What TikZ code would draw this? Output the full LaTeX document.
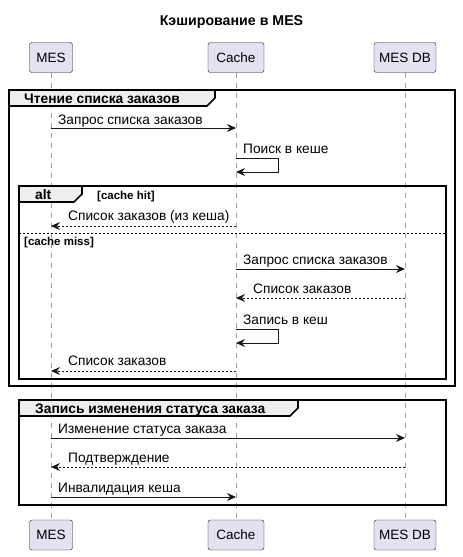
\documentclass[tikz,border=0pt]{standalone}
\usepackage{fontspec}
\setmainfont{Liberation Sans}
\usetikzlibrary{arrows.meta}
\definecolor{partfill}{HTML}{E2E2F0}
\definecolor{lineblk}{HTML}{181818}
\definecolor{lifegray}{HTML}{A0A0A0}
\definecolor{tabfill}{HTML}{EEEEEE}
\tikzset{
  part/.style={draw=lineblk, fill=partfill, rounded corners=2.5pt, minimum height=30pt, inner xsep=2pt, font=\fontsize{13.5}{15}\selectfont},
  life/.style={draw=lifegray, line width=1pt, dash pattern=on 5pt off 5pt},
  msg/.style={draw=lineblk, line width=0.9pt, -{Stealth[length=9pt,width=8pt,inset=3pt]}},
  ret/.style={msg, dash pattern=on 2pt off 2pt},
  lbl/.style={anchor=base west, inner sep=0pt, font=\fontsize{13.7}{15}\selectfont},
  frame/.style={draw=black, line width=1.6pt},
  tabtxt/.style={anchor=base west, inner sep=0pt, font=\bfseries\fontsize{13.8}{15}\selectfont},
  guard/.style={anchor=base west, inner sep=0pt, font=\bfseries\fontsize{11.5}{13}\selectfont},
}
\begin{document}
\begin{tikzpicture}[x=1pt,y=-1pt]
\useasboundingbox (0,0) rectangle (463,557);
% title
\node[font=\bfseries\fontsize{14.2}{16}\selectfont] (title) at (231.5,22) {Кэширование в MES};
% participants
\node[part, minimum width=43pt] (mesT) at (51,57.5) {MES};
\node[part, minimum width=56pt] (cacheT) at (236,57.5) {Cache};
\node[part, minimum width=62pt] (dbT) at (405,57.5) {MES DB};
\node[part, minimum width=43pt] (mesB) at (51,535) {MES};
\node[part, minimum width=56pt] (cacheB) at (236,535) {Cache};
\node[part, minimum width=62pt] (dbB) at (405,535) {MES DB};
\draw[life] (mesT.south) -- (mesB.north);
\draw[life] (cacheT.south) -- (cacheB.north);
\draw[life] (dbT.south) -- (dbB.north);
% group 1 frame
\draw[frame] (9,90) rectangle (455,386);
\draw[frame, fill=tabfill] (9,90) -- (215,90) -- (215,98) -- (207,106) -- (9,106) -- cycle;
\node[tabtxt] (g1) at (24,103) {Чтение списка заказов};
% msg 1
\coordinate (a1) at (51,128); \coordinate (b1) at (236,128);
\draw[msg] (a1) -- (b1);
\node[lbl] (l1) at (58,124) {Запрос списка заказов};
% self 1
\coordinate (s1a) at (236,158); \coordinate (s1b) at (278,158);
\coordinate (s1c) at (278,172); \coordinate (s1d) at (236,172);
\node[lbl] (l2) at (243,153) {Поиск в кеше};
\draw[msg] (s1a) -- (s1b) -- (s1c) -- (s1d);
% alt frame
\draw[frame] (19,186) rectangle (446,379);
\draw[frame, fill=tabfill] (19,186) -- (82,186) -- (82,194) -- (74,202) -- (19,202) -- cycle;
\node[tabtxt] (altl) at (35,199) {alt};
\node[guard] (g2) at (97,199) {[cache hit]};
% msg cache hit
\coordinate (a2) at (236,226); \coordinate (b2) at (51,226);
\draw[ret] (a2) -- (b2);
\node[lbl] (l3) at (68,220) {Список заказов (из кеша)};
% separator
\coordinate (sepL) at (19,233); \coordinate (sepR) at (446,233);
\draw[draw=black, line width=1pt, dash pattern=on 2pt off 2pt] (sepL) -- (sepR);
\node[guard] (g3) at (24,245) {[cache miss]};
% msg 3
\coordinate (a3) at (236,269); \coordinate (b3) at (405,269);
\draw[msg] (a3) -- (b3);
\node[lbl] (l4) at (243,264) {Запрос списка заказов};
% msg 4
\coordinate (a4) at (405,298); \coordinate (b4) at (236,298);
\draw[ret] (a4) -- (b4);
\node[lbl] (l5) at (253,293) {Список заказов};
% self 2
\coordinate (s2a) at (236,329); \coordinate (s2b) at (278,329);
\coordinate (s2c) at (278,343); \coordinate (s2d) at (236,343);
\node[lbl] (l6) at (243,324) {Запись в кеш};
\draw[msg] (s2a) -- (s2b) -- (s2c) -- (s2d);
% msg 5
\coordinate (a5) at (236,371); \coordinate (b5) at (51,371);
\draw[ret] (a5) -- (b5);
\node[lbl] (l7) at (68,365) {Список заказов};
% group 2 frame
\draw[frame] (19,400) rectangle (446,505);
\draw[frame, fill=tabfill] (19,400) -- (298,400) -- (298,408) -- (290,416) -- (19,416) -- cycle;
\node[tabtxt] (g4) at (35,413) {Запись изменения статуса заказа};
% msg 6
\coordinate (a6) at (51,438); \coordinate (b6) at (405,438);
\draw[msg] (a6) -- (b6);
\node[lbl] (l8) at (58,433) {Изменение статуса заказа};
% msg 7
\coordinate (a7) at (405,467); \coordinate (b7) at (51,467);
\draw[ret] (a7) -- (b7);
\node[lbl] (l9) at (68,462) {Подтверждение};
% msg 8
\coordinate (a8) at (51,497); \coordinate (b8) at (236,497);
\draw[msg] (a8) -- (b8);
\node[lbl] (l10) at (58,492) {Инвалидация кеша};
\end{tikzpicture}
\end{document}
